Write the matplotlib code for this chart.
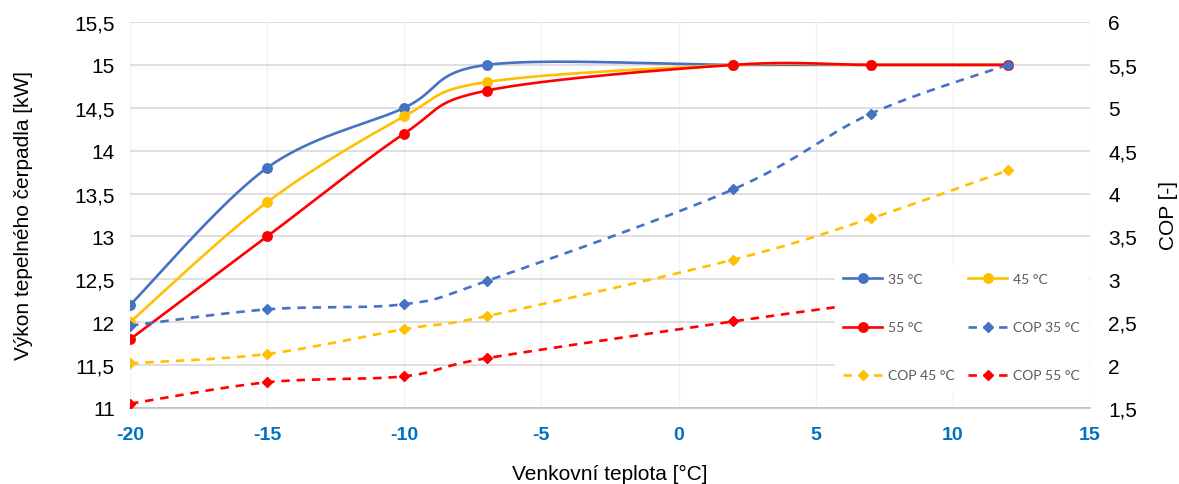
import numpy as np
import matplotlib
matplotlib.use("Agg")
import matplotlib.pyplot as plt
from matplotlib.ticker import FuncFormatter, MultipleLocator
from matplotlib.lines import Line2D

# Outdoor temperature [°C]
temps = [-20, -15, -10, -7, 2, 7, 12]

# Heat pump output [kW] by flow temperature
power_35 = [12.2, 13.8, 14.5, 15.0, 15.0, 15.0, 15.0]
power_45 = [12.0, 13.4, 14.4, 14.8, 15.0, 15.0, 15.0]
power_55 = [11.8, 13.0, 14.2, 14.7, 15.0, 15.0, 15.0]

# Coefficient of performance by flow temperature
cop_35 = [2.46, 2.65, 2.71, 2.98, 4.05, 4.93, 5.50]
cop_45 = [2.02, 2.13, 2.42, 2.57, 3.23, 3.71, 4.27]
cop_55 = [1.55, 1.80, 1.87, 2.08, 2.51, 2.73, 2.95]

series_labels = ["35 °C", "45 °C", "55 °C", "COP 35 °C", "COP 45 °C", "COP 55 °C"]
x_label = "Venkovní teplota [°C]"
y_label = "Výkon tepelného čerpadla [kW]"
y2_label = "COP [-]"

BLUE = "#4472C4"
YELLOW = "#FFC000"
RED = "#FF0000"
TEXT = "#000000"


def smooth(xs, ys, n=40):
    """Catmull-Rom curve through the points, as Bezier segments."""
    p = np.column_stack([xs, ys]).astype(float)
    ext = np.vstack([p[0], p, p[-1]])
    out = [p[:1]]
    t = np.linspace(0, 1, n)[1:, None]
    for i in range(1, len(ext) - 2):
        p0, p1, p2, p3 = ext[i - 1], ext[i], ext[i + 1], ext[i + 2]
        c1 = p1 + (p2 - p0) / 6.0
        c2 = p2 - (p3 - p1) / 6.0
        seg = ((1 - t) ** 3) * p1 + 3 * ((1 - t) ** 2) * t * c1 \
            + 3 * (1 - t) * t ** 2 * c2 + t ** 3 * p2
        out.append(seg)
    pts = np.vstack(out)
    return pts[:, 0], pts[:, 1]


plt.rcParams["font.family"] = ["Liberation Sans", "DejaVu Sans"]
plt.rcParams["axes.unicode_minus"] = False

fig = plt.figure(figsize=(11.79, 4.85), dpi=100)
ax = fig.add_axes([130 / 1179, 76 / 485, 960 / 1179, 386 / 485])
ax2 = ax.twinx()

lw = 1.9
dash = (0, (3.2, 2.6))
handles = []
for ys, col, lab, z in [(power_35, BLUE, series_labels[0], 3),
                        (power_45, YELLOW, series_labels[1], 4),
                        (power_55, RED, series_labels[2], 5)]:
    sx, sy = smooth(temps, ys)
    ax.plot(sx, sy, color=col, lw=lw, zorder=z, solid_capstyle="round")
    ax.plot(temps, ys, ls="none", marker="o", ms=6.8, color=col, zorder=z)
    handles.append(Line2D([], [], color=col, lw=lw, marker="o", ms=6.8, label=lab))

for ys, col, lab in [(cop_35, BLUE, series_labels[3]),
                     (cop_45, YELLOW, series_labels[4]),
                     (cop_55, RED, series_labels[5])]:
    sx, sy = smooth(temps, ys)
    ax2.plot(sx, sy, color=col, lw=lw, ls=dash, zorder=3)
    ax2.plot(temps, ys, ls="none", marker="D", ms=5.2, color=col, zorder=3)
    handles.append(Line2D([], [], color=col, lw=lw, ls=dash,
                          marker="D", ms=5.2, label=lab))

ax.set_xlim(-20, 15)
ax.set_ylim(11, 15.5)
ax2.set_ylim(1.5, 6)
ax.xaxis.set_major_locator(MultipleLocator(5))
ax.yaxis.set_major_locator(MultipleLocator(0.5))
ax2.yaxis.set_major_locator(MultipleLocator(0.5))

comma = FuncFormatter(lambda v, _: f"{v:g}".replace(".", ","))
ax.yaxis.set_major_formatter(comma)
ax2.yaxis.set_major_formatter(comma)

ax.grid(axis="y", color="#D9D9D9", lw=1.2, zorder=0)
ax.grid(axis="x", color="#F2F2F2", lw=1.0, zorder=0)
ax.set_axisbelow(True)

for a in (ax, ax2):
    for s in ("top", "left", "right", "bottom"):
        a.spines[s].set_visible(False)
ax.spines["bottom"].set_visible(True)
ax.spines["bottom"].set_color("#BFBFBF")
ax.spines["bottom"].set_linewidth(1.2)

ax.tick_params(axis="both", length=0)
ax2.tick_params(axis="both", length=0)
ax.tick_params(axis="y", labelsize=15, labelcolor=TEXT, pad=11)
ax2.tick_params(axis="y", labelsize=15, labelcolor=TEXT, pad=13)
ax.tick_params(axis="x", labelsize=14, labelcolor="#0070C0", pad=13)
for t in ax.get_xticklabels():
    t.set_fontweight("bold")

ax.set_xlabel(x_label, fontsize=15, labelpad=15)
ax.set_ylabel(y_label, fontsize=15, labelpad=30)
ax2.set_ylabel(y2_label, fontsize=15, labelpad=16)

order = [0, 2, 4, 1, 3, 5]
leg = ax2.legend([handles[i] for i in order], [handles[i].get_label() for i in order],
                 ncol=2, loc="upper left", bbox_to_anchor=(698 / 960, 150 / 386),
                 frameon=True, fancybox=False, framealpha=1.0, edgecolor="white",
                 facecolor="white", labelcolor="#595959",
                 handlelength=2.8, handletextpad=0.4, columnspacing=1.0,
                 labelspacing=2.6, borderpad=0.6,
                 prop={"family": ["Lato", "DejaVu Sans"], "size": 10})
leg.set_zorder(20)

fig.savefig("out.png", dpi=100)
